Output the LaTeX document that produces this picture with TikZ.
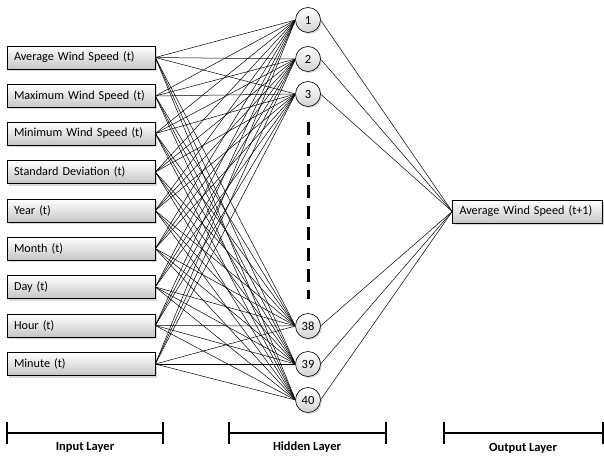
\documentclass[tikz,border=0pt]{standalone}
\usepackage{fontspec}
\setmainfont{Carlito}
\usetikzlibrary{shadows}
\begin{document}
\begin{tikzpicture}[x=1pt,y=-1pt,
  inbox/.style={draw=black, line width=0.6pt, rectangle, minimum width=148pt, minimum height=23pt,
     top color=white, bottom color=gray!45, drop shadow={shadow xshift=2pt, shadow yshift=-2pt, fill=gray!60},
     font=\fontsize{12.2}{13}\selectfont, align=left, text width=134pt, inner xsep=7pt},
  hid/.style={draw=black, line width=0.6pt, circle, minimum size=25pt, inner sep=0pt,
     top color=white, bottom color=gray!35, drop shadow={shadow xshift=1.5pt, shadow yshift=-1.5pt, fill=gray!60},
     font=\fontsize{12.5}{13}\selectfont},
  conn/.style={line width=0.5pt, black},
  bracket/.style={line width=1.6pt},
  layerlbl/.style={font=\fontsize{12.5}{13}\selectfont\bfseries}
]
\useasboundingbox (0,0) rectangle (604,457);
% input nodes
\node[inbox] (i1) at (81,57.5) {Average Wind Speed (t)};
\node[inbox] (i2) at (81,96) {Maximum Wind Speed (t)};
\node[inbox] (i3) at (81,133.5) {Minimum Wind Speed (t)};
\node[inbox] (i4) at (81,172) {Standard Deviation (t)};
\node[inbox] (i5) at (81,210.5) {Year (t)};
\node[inbox] (i6) at (81,248.5) {Month (t)};
\node[inbox] (i7) at (81,287) {Day (t)};
\node[inbox] (i8) at (81,325.5) {Hour (t)};
\node[inbox] (i9) at (81,364) {Minute (t)};
% hidden node positions
\coordinate (h1) at (308,20);
\coordinate (h2) at (308,59);
\coordinate (h3) at (308,94);
\coordinate (h38) at (308,326);
\coordinate (h39) at (308,364);
\coordinate (h40) at (308,400);
% output
\node[inbox, minimum width=150pt, text width=136pt] (o) at (527.5,211.5) {Average Wind Speed (t+1)};
% connections
\foreach \i in {1,...,9}{
  \foreach \h in {1,2,3,38,39,40}{
    \draw[conn] (i\i.east) -- ([xshift=-12.5pt]h\h);
  }
}
\foreach \h in {1,2,3,38,39,40}{
  \draw[conn] ([xshift=12.5pt]h\h) -- (o.west);
}
% hidden nodes drawn on top
\node[hid] (n1) at (h1) {1};
\node[hid] (n2) at (h2) {2};
\node[hid] (n3) at (h3) {3};
\node[hid] (n38) at (h38) {38};
\node[hid] (n39) at (h39) {39};
\node[hid] (n40) at (h40) {40};
% dashed ellipsis
\coordinate (d1) at (308,122);
\coordinate (d2) at (308,299);
\draw[line width=3pt, dash pattern=on 13pt off 8pt] (d1) -- (d2);
% brackets
\coordinate (a1) at (7,433); \coordinate (a2) at (163,433);
\coordinate (b1) at (229,433); \coordinate (b2) at (386,433);
\coordinate (c1) at (444,433); \coordinate (c2) at (603,433);
\foreach \p/\q in {a1/a2,b1/b2,c1/c2}{
  \draw[bracket] (\p) -- (\q);
  \draw[bracket] ([yshift=-11pt]\p) -- ([yshift=11pt]\p);
  \draw[bracket] ([yshift=-11pt]\q) -- ([yshift=11pt]\q);
}
\node[layerlbl] (l1) at (85,447) {Input Layer};
\node[layerlbl] (l2) at (307,447) {Hidden Layer};
\node[layerlbl] (l3) at (523,448) {Output Layer};
\end{tikzpicture}
\end{document}
